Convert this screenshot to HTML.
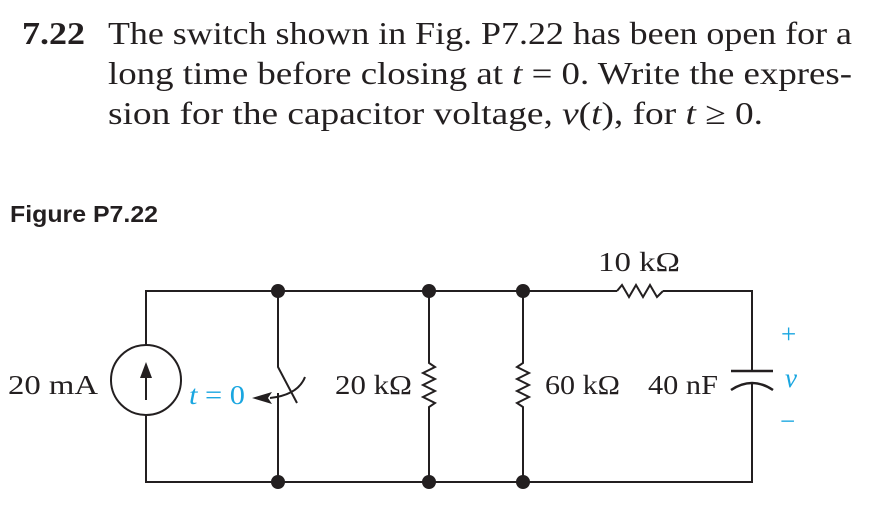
<!DOCTYPE html>
<html><head><style>
body{margin:0;background:#fff;width:872px;height:531px;overflow:hidden}
svg{position:absolute;left:0;top:0}
</style></head><body>
<svg width="872" height="531" viewBox="0 0 872 531" xmlns="http://www.w3.org/2000/svg">
<g font-family="Liberation Serif, serif" font-size="32" fill="#231f20">
<text x="22" y="44" font-weight="bold" textLength="63" lengthAdjust="spacingAndGlyphs">7.22</text>
<text x="108" y="44" textLength="744" lengthAdjust="spacingAndGlyphs">The switch shown in Fig. P7.22 has been open for a</text>
<text x="108" y="84" textLength="744" lengthAdjust="spacingAndGlyphs">long time before closing at <tspan font-style="italic">t</tspan> = 0. Write the expres-</text>
<text x="108" y="124" textLength="655" lengthAdjust="spacingAndGlyphs">sion for the capacitor voltage, <tspan font-style="italic">v</tspan>(<tspan font-style="italic">t</tspan>), for <tspan font-style="italic">t</tspan> ≥ 0.</text>
</g>
<text x="10" y="222" font-family="Liberation Sans, sans-serif" font-weight="bold" font-size="23" fill="#231f20" textLength="148" lengthAdjust="spacingAndGlyphs">Figure P7.22</text>
<g stroke="#231f20" stroke-width="2" fill="none">
<polyline points="146,345 146,291 617,291"/>
<polyline points="146,415 146,482 752,482 752,384"/>
<polyline points="663,291 752,291 752,371"/>
<polyline points="617,291 622,285 629,297 636,285 643,297 650,285 657,297 663,291"/>
<circle cx="146" cy="380" r="35"/>
<line x1="146" y1="400" x2="146" y2="370"/>
<polyline points="278,291 278,367 297,403"/>
<line x1="278" y1="393" x2="278" y2="482"/>
<path d="M305,377 Q298,395 270,398"/>
<polyline points="429,291 429,363 435,367 423,373 435,379 423,385 435,391 423,397 435,403 429,407 429,482"/>
<polyline points="523,291 523,363 517,367 529,373 517,379 529,385 517,391 529,397 517,403 523,407 523,482"/>
<line x1="731" y1="371" x2="773" y2="371" stroke-width="2.5"/>
<path d="M731,390 Q752,376 773,390" stroke-width="2.5"/>
</g>
<polygon points="146,362 140,378 152,378" fill="#231f20"/>
<polygon points="252,398 272,392 268,398 272,404" fill="#231f20"/>
<g fill="#231f20">
<circle cx="278" cy="291" r="7"/><circle cx="429" cy="291" r="7"/><circle cx="523" cy="291" r="7"/>
<circle cx="278" cy="482" r="7"/><circle cx="429" cy="482" r="7"/><circle cx="523" cy="482" r="7"/>
</g>
<g font-family="Liberation Serif, serif" font-size="27" fill="#231f20" lengthAdjust="spacingAndGlyphs">
<text x="8" y="394" textLength="90" lengthAdjust="spacingAndGlyphs">20 mA</text>
<text x="335" y="394" textLength="77" lengthAdjust="spacingAndGlyphs">20 kΩ</text>
<text x="545" y="394" textLength="75" lengthAdjust="spacingAndGlyphs">60 kΩ</text>
<text x="648" y="394" textLength="70" lengthAdjust="spacingAndGlyphs">40 nF</text>
<text x="598" y="271" textLength="82" lengthAdjust="spacingAndGlyphs">10 kΩ</text>
</g>
<g font-family="Liberation Serif, serif" font-size="27" fill="#1aa6e0">
<text x="189" y="404" textLength="56" lengthAdjust="spacingAndGlyphs"><tspan font-style="italic">t</tspan> = 0</text>
<text x="781" y="343">+</text>
<text x="785" y="387" font-style="italic">v</text>
<text x="780" y="430">−</text>
</g>
</svg>
</body></html>
